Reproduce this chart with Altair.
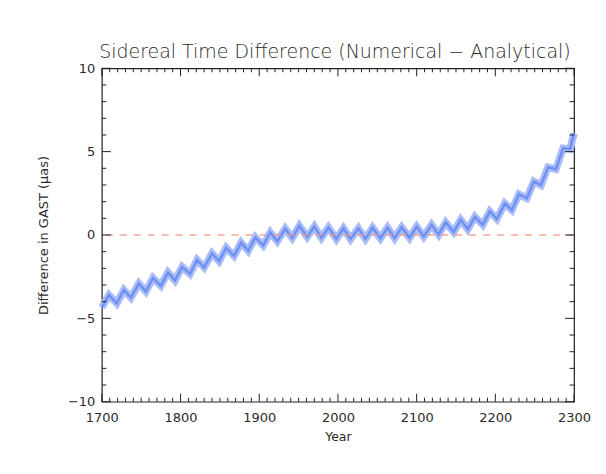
import altair as alt
import pandas as pd

# ---- data ----
years = [1700, 1709, 1719, 1728, 1737, 1747, 1756, 1765, 1775, 1784, 1793,
         1802, 1812, 1821, 1830, 1840, 1849, 1858, 1868, 1877, 1886, 1895,
         1905, 1914, 1923, 1933, 1942, 1951, 1961, 1970, 1979, 1988, 1998,
         2007, 2016, 2026, 2035, 2044, 2054, 2063, 2072, 2081, 2091, 2100,
         2109, 2119, 2128, 2137, 2147, 2156, 2165, 2174, 2184, 2193, 2202,
         2212, 2221, 2230, 2240, 2249, 2258, 2267, 2277, 2286, 2295, 2300]
diff = [-4.35, -3.60, -4.10, -3.30, -3.76, -2.91, -3.39, -2.58, -3.05, -2.24, -2.73,
        -1.91, -2.34, -1.49, -1.95, -1.10, -1.57, -0.77, -1.26, -0.46, -0.95, -0.14,
        -0.63, 0.15, -0.38, 0.38, -0.18, 0.55, -0.12, 0.51, -0.17, 0.45, -0.24,
        0.40, -0.25, 0.40, -0.23, 0.44, -0.20, 0.45, -0.20, 0.46, -0.17, 0.50,
        -0.10, 0.61, 0.02, 0.75, 0.18, 0.91, 0.35, 1.09, 0.61, 1.42, 0.96,
        1.89, 1.49, 2.45, 2.20, 3.21, 2.98, 4.07, 3.94, 5.20, 5.16, 6.10]

x_major = [1700, 1800, 1900, 2000, 2100, 2200, 2300]
x_minor = [y for y in range(1700, 2301, 10) if y % 100]
y_major = [-10, -5, 0, 5, 10]
y_minor = [v for v in range(-10, 11) if v % 5]
zero_line = [0]

W, H = 473, 334
FONT = "DejaVu Sans"
TXT = "#2a2a2a"

xs = alt.Scale(domain=[1700, 2300], nice=False, zero=False)
ys = alt.Scale(domain=[-10, 10], nice=False, zero=False)

curve = pd.DataFrame({"year": years, "diff": diff})

x_axis = alt.Axis(values=x_major, format="d", ticks=False, domain=False, grid=False,
                  labelFlush=False, labelOverlap=False,
                  labelFont=FONT, labelFontSize=13, labelColor=TXT, labelPadding=10,
                  title="Year", titleFont=FONT, titleFontSize=12.5, titleFontWeight="normal",
                  titleColor=TXT, titlePadding=6)
y_axis = alt.Axis(values=y_major, format="d", ticks=False, domain=False, grid=False,
                  labelFlush=False, labelOverlap=False,
                  labelFont=FONT, labelFontSize=13, labelColor=TXT, labelPadding=7,
                  title="Difference in GAST (μas)", titleFont=FONT, titleFontSize=13,
                  titleFontWeight="normal", titleColor=TXT, titlePadding=17)

X = lambda f: alt.X(f, scale=xs, axis=x_axis)
Y = lambda f: alt.Y(f, scale=ys, axis=y_axis)

halo = alt.Chart(curve).mark_line(color="#a9bdf8", strokeWidth=7.5, strokeJoin="miter",
                                  strokeMiterLimit=3).encode(x=X("year:Q"), y=Y("diff:Q"))
core = alt.Chart(curve).mark_line(color="#6f8ff2", strokeWidth=2.5).encode(
    x=X("year:Q"), y=Y("diff:Q"))

zero = alt.Chart(pd.DataFrame({"v": zero_line})).mark_rule(
    color="#ee9a86", strokeWidth=1.5, strokeDash=[7, 7], opacity=0.85).encode(y=Y("v:Q"))

def xticks(vals, length):
    df = pd.DataFrame({"t": vals})
    top = alt.Chart(df).mark_rule(color="#222", strokeWidth=1).encode(
        x=X("t:Q"), y=alt.value(0), y2=alt.value(length))
    bot = alt.Chart(df).mark_rule(color="#222", strokeWidth=1).encode(
        x=X("t:Q"), y=alt.value(H), y2=alt.value(H - length))
    return [top, bot]

def yticks(vals, length):
    df = pd.DataFrame({"t": vals})
    left = alt.Chart(df).mark_rule(color="#222", strokeWidth=1).encode(
        y=Y("t:Q"), x=alt.value(0), x2=alt.value(length))
    right = alt.Chart(df).mark_rule(color="#222", strokeWidth=1).encode(
        y=Y("t:Q"), x=alt.value(W), x2=alt.value(W - length))
    return [left, right]

layers = [halo, core, zero] + xticks(x_major, 8) + xticks(x_minor, 4) \
         + yticks(y_major, 9) + yticks(y_minor, 4.5)

chart = alt.layer(*layers).properties(
    width=W, height=H,
    title=alt.TitleParams("Sidereal Time Difference (Numerical − Analytical)",
                          font=FONT, fontSize=19, fontWeight=300, color=TXT,
                          anchor="middle", offset=3, dy=3, dx=-3),
    autosize=alt.AutoSizeParams(type="none"),
    padding={"left": 94, "top": 60, "right": 24, "bottom": 50},
    background="white",
).configure_view(stroke="#222", strokeWidth=1.2)

chart.save("out.html", embed_options={"renderer": "svg", "actions": False})
